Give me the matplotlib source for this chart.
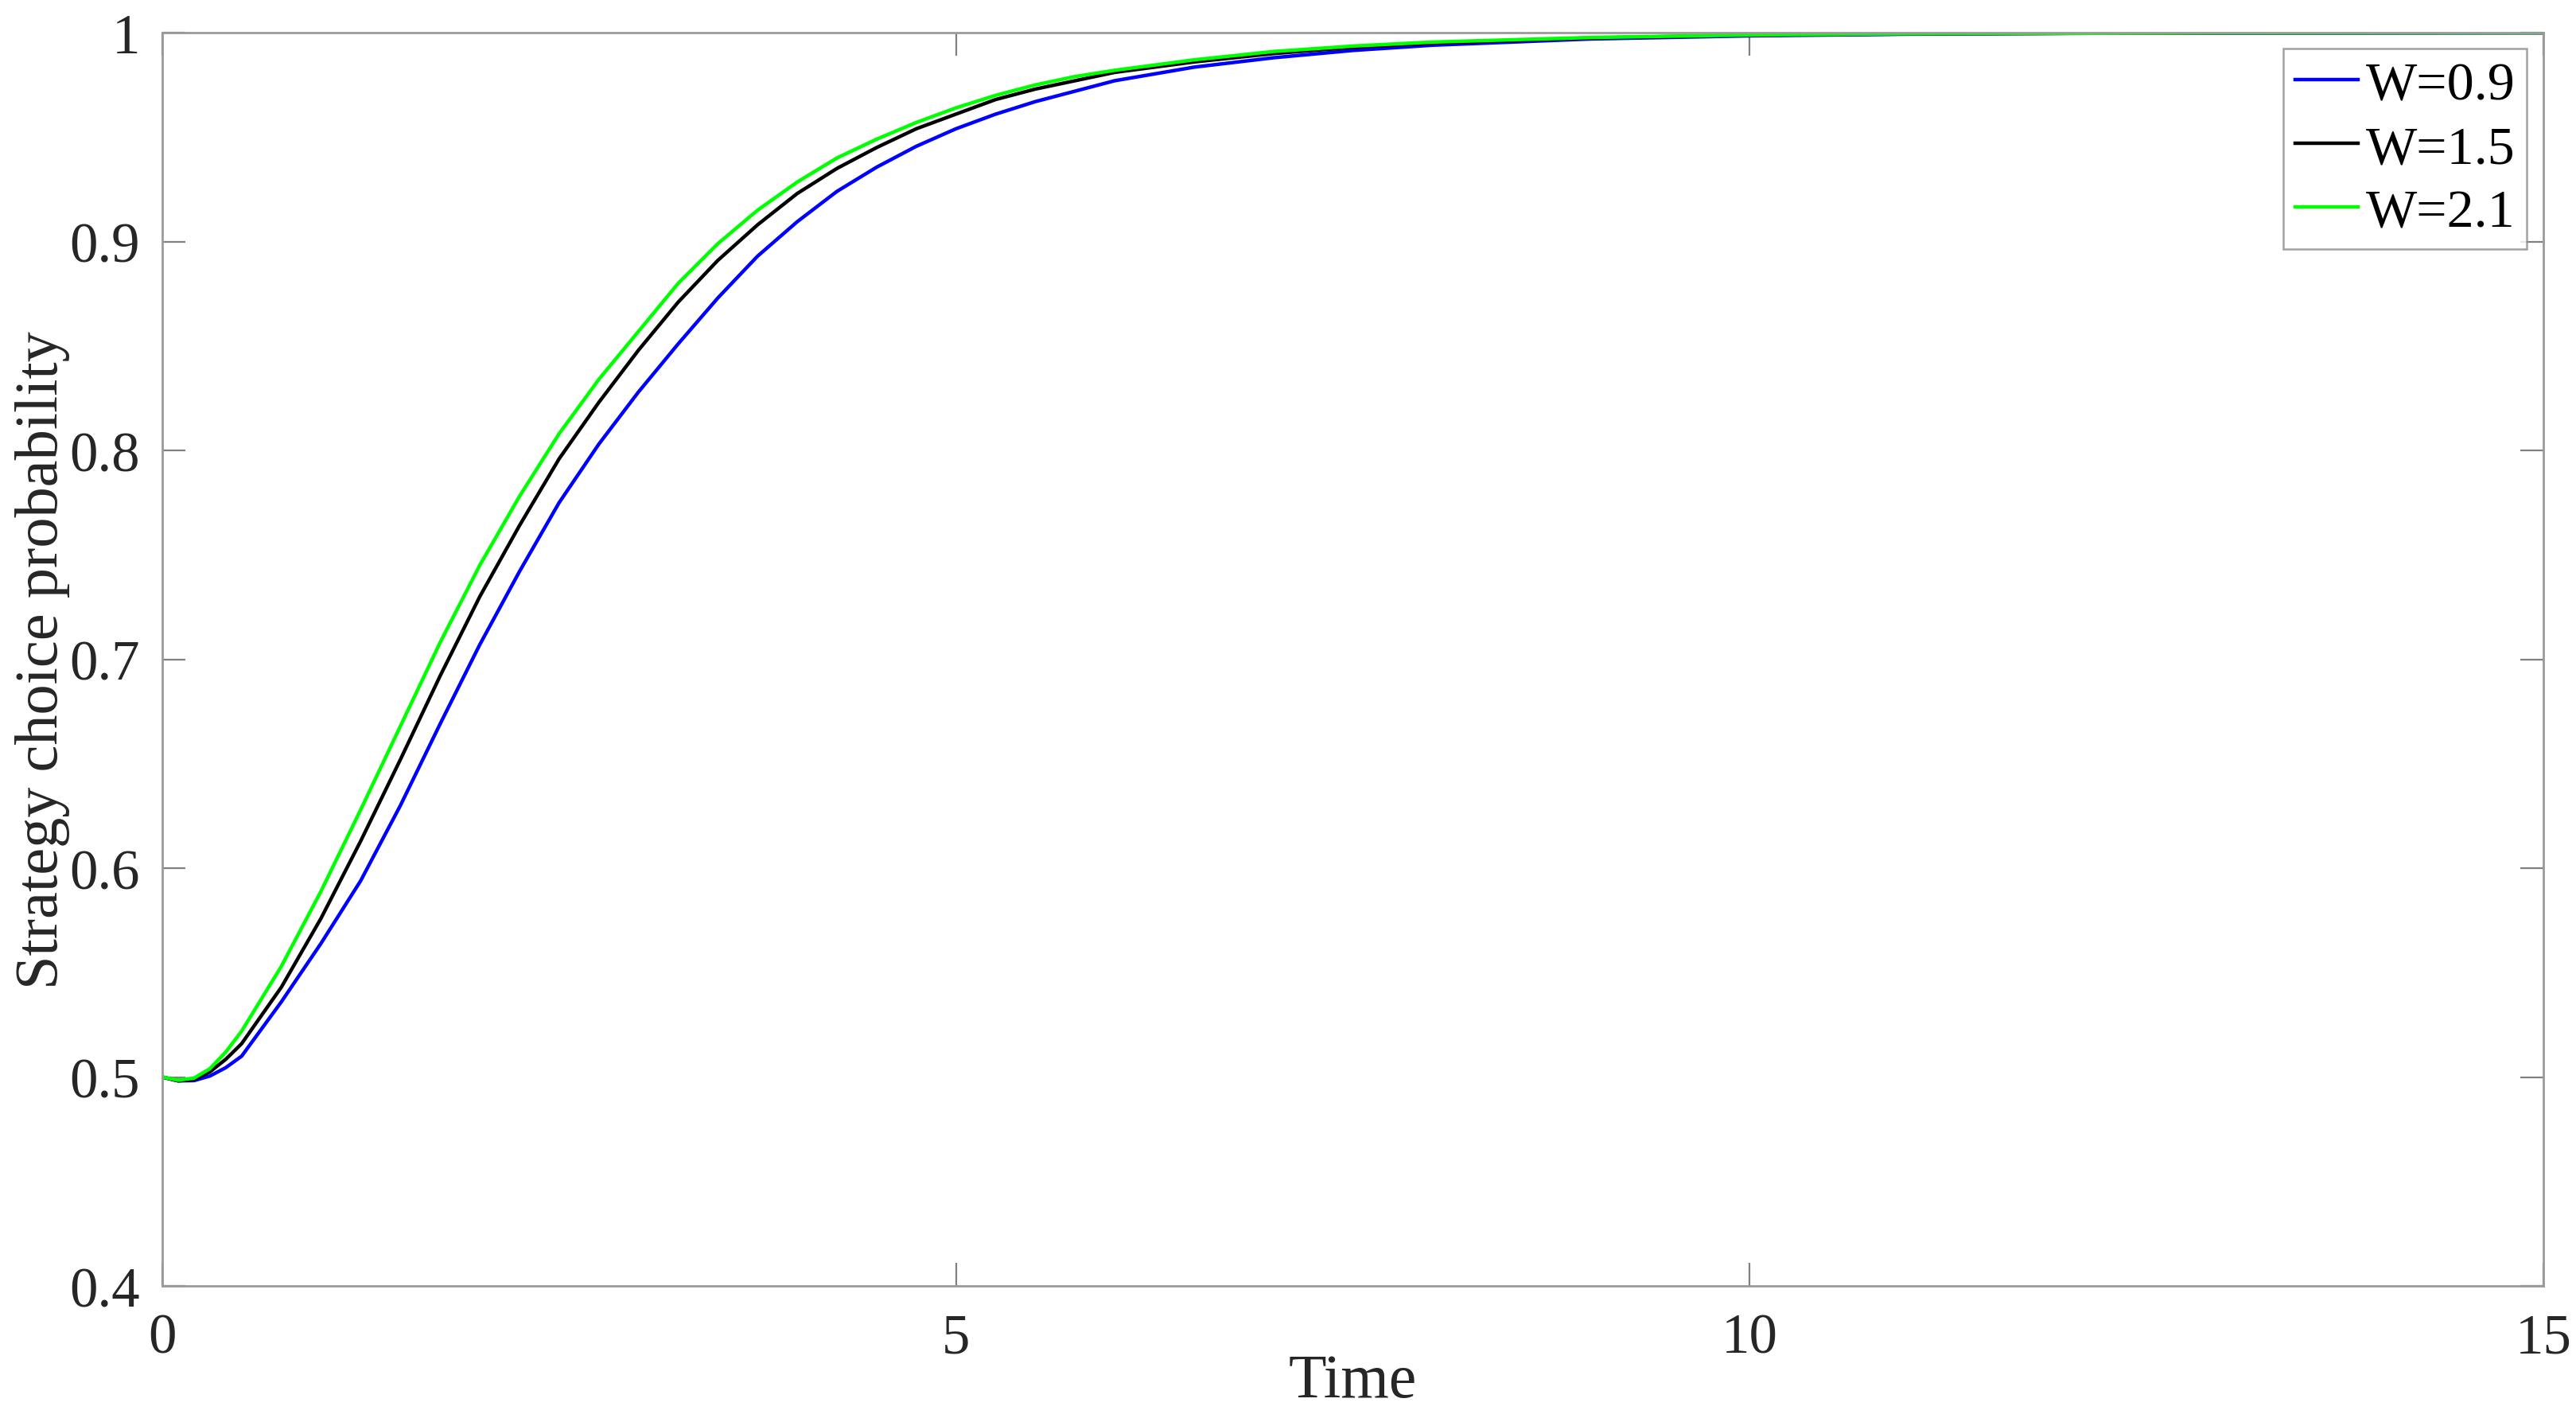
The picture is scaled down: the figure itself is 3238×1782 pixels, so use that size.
import matplotlib
matplotlib.use("Agg")
import matplotlib.pyplot as plt

plt.rcParams['font.family'] = ['Liberation Serif', 'DejaVu Serif']

# ---- data ----
time = [0, 0.1, 0.2, 0.3, 0.4, 0.5, 0.75, 1.0, 1.25, 1.5, 1.75, 2.0, 2.25, 2.5, 2.75, 3.0,
        3.25, 3.5, 3.75, 4.0, 4.25, 4.5, 4.75, 5.0, 5.25, 5.5, 5.75, 6.0, 6.5,
        7.0, 7.5, 8.0, 9.0, 10.0, 11.0, 12.0, 13.0, 14.0, 15.0]

w09 = [0.500, 0.4982, 0.4983, 0.5005, 0.5045, 0.510, 0.536, 0.564, 0.594, 0.630, 0.669,
       0.707, 0.742, 0.775, 0.803, 0.828, 0.851, 0.873, 0.893, 0.9095, 0.924, 0.9356,
       0.9456, 0.954, 0.961, 0.967, 0.972, 0.977, 0.9835, 0.988, 0.9915, 0.994, 0.997,
       0.9985, 0.9993, 0.9997, 0.9998, 0.9999, 1.0]

w15 = [0.500, 0.4982, 0.4988, 0.5025, 0.5085, 0.516, 0.543, 0.576, 0.613, 0.652, 0.692,
       0.730, 0.764, 0.796, 0.823, 0.848, 0.871, 0.891, 0.908, 0.923, 0.935, 0.945,
       0.954, 0.961, 0.968, 0.973, 0.977, 0.981, 0.986, 0.990, 0.993, 0.995, 0.9975,
       0.9988, 0.9994, 0.9997, 0.9999, 0.99995, 1.0]

w21 = [0.500, 0.4985, 0.4995, 0.504, 0.512, 0.522, 0.553, 0.589, 0.628, 0.668, 0.708,
       0.745, 0.778, 0.808, 0.834, 0.857, 0.880, 0.899, 0.915, 0.9285, 0.940, 0.949,
       0.957, 0.964, 0.970, 0.975, 0.979, 0.982, 0.987, 0.991, 0.9936, 0.9955, 0.9977,
       0.9989, 0.9995, 0.9997, 0.9999, 0.99995, 1.0]

labels = ['W=0.9', 'W=1.5', 'W=2.1']
colors = ['#0000ff', '#000000', '#00ff00']

xticks = [0, 5, 10, 15]
yticks = [0.4, 0.5, 0.6, 0.7, 0.8, 0.9, 1.0]
ytick_labels = ['0.4', '0.5', '0.6', '0.7', '0.8', '0.9', '1']

# ---- figure ----
fig = plt.figure(figsize=(32.38, 17.83), dpi=100)
ax = fig.add_axes([0.063, 0.0931, 0.9243, 0.8833])

for ys, lab, c in zip([w09, w15, w21], labels, colors):
    ax.plot(time, ys, color=c, lw=3.2, label=lab)

ax.set_xlim(0, 15)
ax.set_ylim(0.4, 1.0)
ax.set_xticks(xticks)
ax.set_xticklabels([str(v) for v in xticks])
ax.set_yticks(yticks)
ax.set_yticklabels(ytick_labels)

spine_col = '#9a9a9a'
for s in ax.spines.values():
    s.set_color(spine_col)
    s.set_linewidth(2.0)

ax.tick_params(direction='in', top=True, right=True, length=21, width=1.6,
               color='#808080', labelsize=51, labelcolor='#262626')
ax.tick_params(axis='x', pad=24)
ax.tick_params(axis='y', pad=20)

ax.set_xlabel('Time', fontsize=56, color='#262626', labelpad=-10)
ax.set_ylabel('Strategy choice probability', fontsize=55, color='#262626', labelpad=0)

leg = ax.legend(loc='upper right', fontsize=49, frameon=True, fancybox=False,
                edgecolor='#8a8a8a', handlelength=1.15, handletextpad=0.15,
                borderaxespad=0.3, labelspacing=0.27, borderpad=0.22)
leg.get_frame().set_linewidth(1.8)

fig.savefig('out.png', dpi=100, facecolor='white')
